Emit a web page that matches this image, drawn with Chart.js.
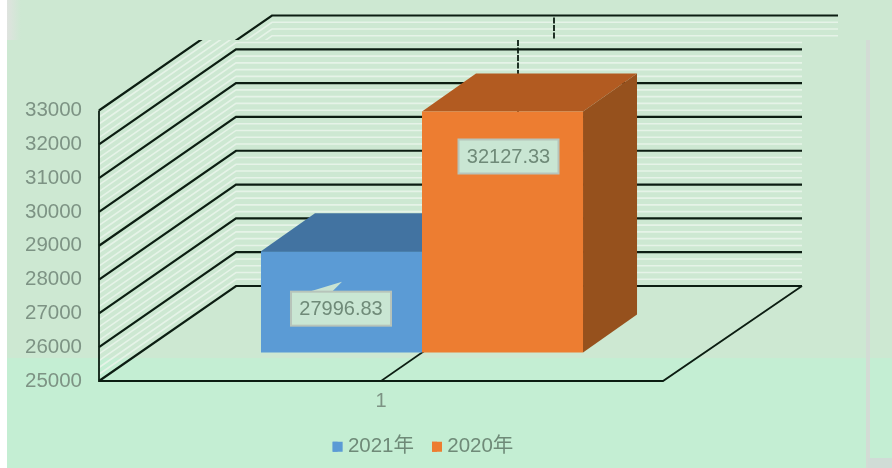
<!DOCTYPE html>
<html>
<head>
<meta charset="utf-8">
<style>
  html, body { margin: 0; padding: 0; }
  body {
    width: 892px; height: 468px; overflow: hidden; position: relative;
    background-color: #c4eed3;
  }
  .bg { position: absolute; }
  canvas { position: absolute; left: 0; top: 0; }
</style>
<script src="https://cdn.jsdelivr.net/npm/chart.js@4"></script>
</head>
<body>
<div class="bg" style="left:0;top:0;width:892px;height:358px;background:#cde8d2"></div>
<div class="bg" style="left:0;top:0;width:7px;height:468px;background:#fff"></div>
<div class="bg" style="left:7px;top:0;width:14px;height:40px;background:linear-gradient(90deg,#dfe3df,#cde8d2)"></div>
<div class="bg" style="left:866px;top:40px;width:4px;height:428px;background:#d3dcd5"></div>
<div class="bg" style="left:868px;top:458px;width:24px;height:10px;background:#d0dcd6"></div>
<canvas id="chart" width="864" height="468"></canvas>
<script>
// data
const categories = ['1'];
const series2021 = [27996.83];
const series2020 = [32127.33];
const yMin = 25000;
const yMax = 33000;
const yStep = 1000;
const yMinorStep = 200;

// colours
const textColor = '#7d9384';
const legendColor = '#6f8a78';
const lineColor = '#0c1d12';
const paleLine = '#e6f3e8';
const faces = [
    { front: '#5b9bd5', top: '#4273a1', side: '#41719c' },
    { front: '#ed7d31', top: '#b25b21', side: '#96511d' }
];

// fake 3d geometry
const wallDx = 137, wallDy = 95;      // depth of the floor
const barDx = 41, barDy = 28.5;       // front of the bars, measured from the front edge
const sideDx = 54, sideDy = 38;       // depth of the bars
const stripY = 40, stripShift = 36;   // top rows of the picture sit shifted right

// value label boxes, relative to the bar front
const labelOffsets = [{ dx: -0.5, dy: 57.5 }, { dx: 6, dy: 45 }];
const labelW = 100, labelH = 34;
const legendRight = 846;

function line(ctx, pts, color, width) {
    ctx.beginPath();
    ctx.moveTo(pts[0][0], pts[0][1]);
    pts.slice(1).forEach(p => ctx.lineTo(p[0], p[1]));
    ctx.strokeStyle = color;
    ctx.lineWidth = width;
    ctx.stroke();
}

function poly(ctx, pts, color) {
    ctx.beginPath();
    ctx.moveTo(pts[0][0], pts[0][1]);
    pts.slice(1).forEach(p => ctx.lineTo(p[0], p[1]));
    ctx.closePath();
    ctx.fillStyle = color;
    ctx.fill();
}

function drawWalls(chart) {
    const ctx = chart.ctx;
    const y = chart.scales.y, x = chart.scales.x;
    const area = chart.chartArea;
    const backL = area.left + wallDx;
    const backR = area.right + wallDx + 2;

    // minor stripes first, then the black grid lines
    for (let v = yMin; v < yMax; v += yMinorStep) {
        if ((v - yMin) % yStep === 0) continue;
        const py = y.getPixelForValue(v);
        line(ctx, [[area.left, py], [backL, py - wallDy], [backR, py - wallDy]], paleLine, 1.6);
    }
    y.ticks.forEach(t => {
        const py = y.getPixelForValue(t.value);
        line(ctx, [[area.left, py], [backL, py - wallDy], [backR, py - wallDy]], lineColor, 2.2);
    });

    // floor and axis
    line(ctx, [[area.left, area.top], [area.left, area.bottom], [area.right, area.bottom],
        [backR, area.bottom - wallDy]], lineColor, 1.8);

    // category tick runs over the floor and up the back wall
    const cx = x.getPixelForValue(0);
    line(ctx, [[cx, area.bottom], [cx + wallDx, area.bottom - wallDy]], lineColor, 1.6);
    ctx.save();
    ctx.setLineDash([6, 1.5]);
    line(ctx, [[cx + wallDx, area.bottom - wallDy], [cx + wallDx, area.top - wallDy]], lineColor, 1.8);
    ctx.restore();
}

const threeD = {
    id: 'threeD',
    afterLayout(chart) {
        // the legend centres on the full chart, not on the narrow plot
        chart.legend.left = 0;
        chart.legend.right = legendRight;
    },
    beforeDraw(chart) {
        const ctx = chart.ctx;
        ctx.save();
        ctx.beginPath();
        ctx.rect(0, stripY, chart.width, chart.height - stripY);
        ctx.clip();
        drawWalls(chart);
        ctx.restore();

        ctx.save();
        ctx.beginPath();
        ctx.rect(0, 0, chart.width, stripY);
        ctx.clip();
        ctx.translate(stripShift, 0);
        drawWalls(chart);
        ctx.restore();
    },
    beforeDatasetsDraw(chart) {
        const ctx = chart.ctx;
        chart.data.datasets.forEach((ds, i) => {
            const el = chart.getDatasetMeta(i).data[0];
            const l = el.x - el.width / 2 + barDx, r = el.x + el.width / 2 + barDx;
            const t = el.y - barDy, b = el.base - barDy;
            poly(ctx, [[l, t], [r, t], [r + sideDx, t - sideDy], [l + sideDx, t - sideDy]], faces[i].top);
            poly(ctx, [[r, t], [r + sideDx, t - sideDy], [r + sideDx, b - sideDy], [r, b]], faces[i].side);
        });
    },
    beforeDatasetDraw(chart) {
        chart.ctx.save();
        chart.ctx.translate(barDx, -barDy);
    },
    afterDatasetDraw(chart) {
        chart.ctx.restore();
    },
    afterDatasetsDraw(chart) {
        const ctx = chart.ctx;
        chart.data.datasets.forEach((ds, i) => {
            const el = chart.getDatasetMeta(i).data[0];
            const off = labelOffsets[i];
            const cx = el.x + barDx + off.dx;
            const cy = el.y - barDy + off.dy;
            if (i === 0) {
                // callout pointer of the first label
                poly(ctx, [[cx - 32, cy - labelH / 2], [cx + 1, cy - labelH / 2 - 10],
                    [cx - 9, cy - labelH / 2]], '#c9e3d2');
            }
            ctx.fillStyle = '#c9e6d3';
            ctx.strokeStyle = '#b7c4ba';
            ctx.lineWidth = 2;
            ctx.fillRect(cx - labelW / 2, cy - labelH / 2, labelW, labelH);
            ctx.strokeRect(cx - labelW / 2, cy - labelH / 2, labelW, labelH);
            ctx.fillStyle = '#6f8a78';
            ctx.font = '20px "Liberation Sans"';
            ctx.textAlign = 'center';
            ctx.textBaseline = 'middle';
            ctx.fillText(ds.data[0].toFixed(2), cx, cy + 0.5);
        });
    },
    afterDraw(chart) {
        // legend squares are wider than the box that keeps the text gap right
        const ctx = chart.ctx;
        chart.legend.legendHitBoxes.forEach((box, i) => {
            ctx.fillStyle = faces[i].front;
            ctx.fillRect(box.left, box.top + box.height / 2 - 5, 10, 10);
        });
    }
};

new Chart(document.getElementById('chart'), {
    type: 'bar',
    data: {
        labels: categories,
        datasets: [
            { label: '2021年', data: series2021, base: yMin, backgroundColor: faces[0].front, clip: false },
            { label: '2020年', data: series2020, base: yMin, backgroundColor: faces[1].front, clip: false }
        ]
    },
    options: {
        responsive: false,
        animation: false,
        devicePixelRatio: 1,
        categoryPercentage: 0.571,
        barPercentage: 1,
        layout: { padding: { left: 0, right: 201, top: 110.5, bottom: 1 } },
        plugins: {
            tooltip: { enabled: false },
            legend: {
                position: 'bottom',
                labels: {
                    boxWidth: 5,
                    boxHeight: 10,
                    padding: 18,
                    color: legendColor,
                    font: { family: '"Liberation Sans", "Noto Sans CJK SC"', size: 20.5 }
                }
            }
        },
        scales: {
            x: {
                grid: { display: false, drawTicks: false },
                border: { display: false },
                ticks: { color: textColor, padding: 8, font: { family: '"Liberation Sans"', size: 20 } },
                afterFit(scale) { scale.height = 37.5; }
            },
            y: {
                min: yMin,
                max: yMax,
                grid: { display: false, drawTicks: false },
                border: { display: false },
                ticks: {
                    stepSize: yStep,
                    color: textColor,
                    padding: 17,
                    font: { family: '"Liberation Sans"', size: 20.5 },
                    callback: v => String(v)
                },
                afterFit(scale) { scale.width = 99; }
            }
        }
    },
    plugins: [threeD]
});
</script>
</body>
</html>
